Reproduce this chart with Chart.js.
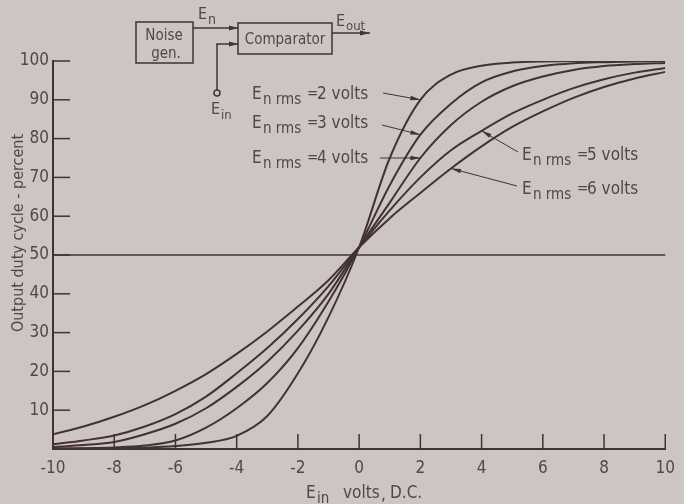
<!DOCTYPE html>
<html>
<head>
<meta charset="utf-8">
<title>Output duty cycle vs Ein</title>
<script src="https://cdn.jsdelivr.net/npm/chart.js@4.4.1/dist/chart.umd.min.js"></script>
<style>
  html, body { margin: 0; padding: 0; background: #cdc5c3; }
  #wrap { width: 684px; height: 504px; position: relative; }
</style>
</head>
<body>
<div id="wrap"><canvas id="dutyChart"></canvas></div>
<script>
// Ein (volts, D.C.) sample points
const einVolts = [-10, -9, -8, -7, -6, -5, -4, -3, -2, -1, 0, 1, 2, 3, 4, 5, 6, 7, 8, 9, 10];

// Output duty cycle (percent) for each noise level
const duty2V = [0.05, 0.1, 0.2, 0.4, 0.8, 1.6, 3.4, 8.5, 19.5, 34, 52, 75, 90, 96.5, 98.8, 99.6, 99.9, 100, 100, 100, 100];
const duty3V = [0.1, 0.2, 0.4, 0.9, 2.2, 5.5, 10.5, 17, 26, 38, 52, 68, 81, 89, 94.5, 97.3, 98.7, 99.4, 99.7, 99.9, 100];
const duty4V = [0.5, 1, 1.8, 3.8, 6.5, 10.5, 16, 22.5, 30.5, 40, 52, 63.5, 75, 83.5, 89.5, 93.5, 96, 97.7, 98.7, 99.2, 99.5];
const duty5V = [1.2, 2.2, 3.5, 5.8, 9, 13.5, 19.5, 26, 33.5, 42, 52, 61.5, 70, 77, 82, 86.5, 90, 93, 95.3, 97, 98.2];
const duty6V = [3.8, 5.8, 8.3, 11.3, 15, 19.3, 24.5, 30.3, 36.7, 43.5, 52, 59.5, 66, 72.3, 78, 83, 87, 90.5, 93.3, 95.5, 97.2];

const noiseLevels = ['2', '3', '4', '5', '6'];
const xTicks = [-10, -8, -6, -4, -2, 0, 2, 4, 6, 8, 10];
const yTicks = [10, 20, 30, 40, 50, 60, 70, 80, 90, 100];
const midLine = 50;

const INK = '#423230';
const TEXT = '#544644';
const FONT = "'DejaVu Sans Condensed', 'DejaVu Sans', sans-serif";
const NUM_FONT = "'Liberation Sans Narrow', 'DejaVu Sans Condensed', sans-serif";

// label placement: [noise level index, text x, text baseline y, arrow start x, arrow start y, Ein index of arrow tip]
const curveLabels = [
    [0, 252, 99, 383, 93, 12],
    [1, 252, 128, 382, 125, 12],
    [2, 252, 163, 380, 158, 12],
    [3, 522, 160, 518, 152, 14],
    [4, 522, 194, 517, 186, 13]
];

function line(ctx, x1, y1, x2, y2) {
    ctx.beginPath();
    ctx.moveTo(x1, y1);
    ctx.lineTo(x2, y2);
    ctx.stroke();
}

function arrow(ctx, x1, y1, x2, y2, len, half) {
    line(ctx, x1, y1, x2, y2);
    const a = Math.atan2(y2 - y1, x2 - x1);
    ctx.beginPath();
    ctx.moveTo(x2, y2);
    ctx.lineTo(x2 - len * Math.cos(a) + half * Math.sin(a), y2 - len * Math.sin(a) - half * Math.cos(a));
    ctx.lineTo(x2 - len * Math.cos(a) - half * Math.sin(a), y2 - len * Math.sin(a) + half * Math.cos(a));
    ctx.closePath();
    ctx.fill();
}

function txt(ctx, s, x, y, size, align) {
    ctx.font = size + 'px ' + FONT;
    ctx.textAlign = align || 'left';
    ctx.fillText(s, x, y);
}

const decorPlugin = {
    id: 'decor',
    beforeDraw(chart) {
        const ctx = chart.ctx;
        ctx.save();
        ctx.fillStyle = '#cdc5c3';
        ctx.fillRect(0, 0, chart.width, chart.height);
        ctx.restore();
    },
    afterDraw(chart) {
        const ctx = chart.ctx;
        const xs = chart.scales.x, ys = chart.scales.y;
        ctx.save();
        ctx.strokeStyle = INK;
        ctx.fillStyle = INK;
        ctx.lineCap = 'butt';

        // inward tick marks
        ctx.lineWidth = 1.5;
        xTicks.forEach(v => {
            const px = xs.getPixelForValue(v);
            line(ctx, px, ys.bottom, px, ys.bottom - 15);
        });
        yTicks.forEach(v => {
            const py = ys.getPixelForValue(v);
            line(ctx, xs.left, py, xs.left + 17, py);
        });

        // 50 percent line
        ctx.lineWidth = 1.4;
        const p50 = ys.getPixelForValue(midLine);
        line(ctx, xs.left, p50, xs.right, p50);

        // block diagram
        ctx.lineWidth = 1.5;
        ctx.strokeRect(136, 22, 57, 41);
        ctx.strokeRect(238, 23, 94, 31);
        arrow(ctx, 193, 28, 238, 28, 9, 2.5);
        line(ctx, 217, 90, 217, 44);
        arrow(ctx, 216.3, 44, 238, 44, 9, 2.5);
        arrow(ctx, 332, 33, 370, 33, 10, 2.5);
        ctx.beginPath();
        ctx.arc(217, 93, 3, 0, Math.PI * 2);
        ctx.stroke();

        ctx.fillStyle = TEXT;
        txt(ctx, 'Noise', 164, 40, 15, 'center');
        txt(ctx, 'gen.', 166, 58, 15, 'center');
        txt(ctx, 'Comparator', 285, 44, 15, 'center');
        txt(ctx, 'E', 198, 19, 16);
        txt(ctx, 'n', 208, 24, 14);
        txt(ctx, 'E', 336, 26, 16);
        txt(ctx, 'out', 346, 30, 13);
        txt(ctx, 'E', 211, 114, 16);
        txt(ctx, 'in', 221, 119, 13);

        // curve labels with arrows
        curveLabels.forEach(([k, tx, ty, ax, ay, idx]) => {
            ctx.fillStyle = TEXT;
            txt(ctx, 'E', tx, ty, 17);
            txt(ctx, 'n rms', tx + 11, ty + 5, 15);
            txt(ctx, '=', tx + 55, ty - 1, 15);
            txt(ctx, noiseLevels[k] + ' volts', tx + 65, ty, 17);
            const pt = chart.getDatasetMeta(k).data[idx];
            ctx.strokeStyle = INK;
            ctx.fillStyle = INK;
            ctx.lineWidth = 1;
            arrow(ctx, ax, ay, pt.x, pt.y, 10, 2.2);
        });

        // axis titles
        ctx.fillStyle = TEXT;
        txt(ctx, 'E', 306, 498, 17);
        txt(ctx, 'in', 317, 503, 15);
        txt(ctx, 'volts', 343, 498, 17);
        txt(ctx, ',', 381, 500, 17);
        txt(ctx, 'D.C.', 390, 498, 17);

        ctx.translate(19, 233);
        ctx.rotate(-Math.PI / 2);
        ctx.textBaseline = 'middle';
        txt(ctx, 'Output duty cycle - percent', 0, 0, 16, 'center');
        ctx.restore();
    }
};

const seriesData = [duty2V, duty3V, duty4V, duty5V, duty6V];

const ctx = document.getElementById('dutyChart').getContext('2d');
new Chart(ctx, {
    type: 'line',
    data: {
        labels: einVolts,
        datasets: seriesData.map((vals, i) => ({
            label: 'En rms = ' + noiseLevels[i] + ' volts',
            data: vals.map((v, j) => ({ x: einVolts[j], y: v })),
            borderColor: INK,
            borderWidth: 2,
            pointRadius: 0,
            fill: false,
            cubicInterpolationMode: 'monotone'
        }))
    },
    options: {
        responsive: true,
        maintainAspectRatio: false,
        animation: false,
        layout: { padding: { top: 61, right: 11, left: 0, bottom: 0 } },
        plugins: {
            legend: { display: false },
            tooltip: { enabled: false }
        },
        scales: {
            x: {
                type: 'linear',
                min: -10,
                max: 10,
                afterFit: scale => { scale.height = 55; },
                afterBuildTicks: scale => { scale.ticks = xTicks.map(v => ({ value: v })); },
                grid: { display: false, drawTicks: false },
                border: { display: true, color: INK, width: 2 },
                ticks: {
                    color: TEXT,
                    padding: 9,
                    maxRotation: 0,
                    font: { family: NUM_FONT, size: 17 }
                }
            },
            y: {
                min: 0,
                max: 100,
                afterFit: scale => { scale.width = 53; },
                afterBuildTicks: scale => { scale.ticks = yTicks.map(v => ({ value: v })); },
                grid: { display: false, drawTicks: false },
                border: { display: true, color: INK, width: 2 },
                ticks: {
                    color: TEXT,
                    padding: 4,
                    font: { family: NUM_FONT, size: 17 }
                }
            }
        }
    },
    plugins: [decorPlugin]
});
</script>
</body>
</html>
